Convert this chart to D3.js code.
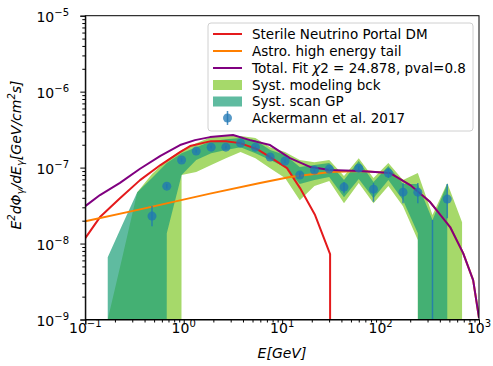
<!DOCTYPE html>
<html>
<head>
<meta charset="utf-8">
<script src="https://cdn.jsdelivr.net/npm/d3@7"></script>
<style>
  body { margin: 0; background: #fff; }
  svg text { font-family: "DejaVu Sans", sans-serif; fill: #000; }
</style>
</head>
<body>
<div id="chart"></div>
<script>
// Ackermann et al. 2017 points (GeV, GeV/cm2/s)
const dataE  = [0.476, 0.673, 0.951, 1.34, 1.90, 2.68, 3.78, 5.35, 7.55, 10.7, 15.1, 21.3, 30.1, 42.5, 60.0, 84.7, 120, 169, 239, 337, 476];
const dataF  = [2.30e-8, 5.7e-8, 1.26e-7, 1.65e-7, 1.86e-7, 1.86e-7, 2.10e-7, 1.86e-7, 1.38e-7, 1.22e-7, 7.97e-8, 9.27e-8, 9.55e-8, 5.54e-8, 9.84e-8, 5.2e-8, 8.47e-8, 4.75e-8, 4.75e-8, 5e-10, 3.85e-8];
const dataLo = [1.69e-8, 5.3e-8, 1.19e-7, 1.57e-7, 1.78e-7, 1.78e-7, 2.01e-7, 1.78e-7, 1.31e-7, 1.15e-7, 7.4e-8, 8.6e-8, 8.9e-8, 4.6e-8, 9.2e-8, 3.55e-8, 7.3e-8, 3.40e-8, 3.40e-8, 0, 2.16e-8];
const dataHi = [3.11e-8, 6.1e-8, 1.33e-7, 1.73e-7, 1.94e-7, 1.94e-7, 2.19e-7, 1.94e-7, 1.45e-7, 1.29e-7, 8.6e-8, 9.9e-8, 1.02e-7, 6.44e-8, 1.05e-7, 6.25e-8, 9.8e-8, 6.25e-8, 6.25e-8, 2.04e-8, 6.07e-8];

// systematic bands, on the same energy grid (3 bins below, 1 above)
const bandE  = [0.169, 0.239, 0.337, 0.476, 0.673, 0.951, 1.34, 1.90, 2.68, 3.78, 5.35, 7.55, 10.7, 15.1, 21.3, 30.1, 42.5, 60.0, 84.7, 120, 169, 239, 337, 476, 673];
const bckUp  = [1.0e-9, 6.82e-9, 4.75e-8, 8.21e-8, 1.26e-7, 1.70e-7, 2.10e-7, 2.52e-7, 2.60e-7, 2.60e-7, 2.45e-7, 1.86e-7, 1.60e-7, 1.26e-7, 1.18e-7, 1.26e-7, 7.73e-8, 1.33e-7, 7.27e-8, 1.15e-7, 6.86e-8, 8.47e-8, 2.37e-8, 6.25e-8, 1.91e-8];
const bckLo  = [0, 0, 0, 0, 0, 7.97e-8, 8.73e-8, 1.08e-7, 1.33e-7, 1.60e-7, 1.33e-7, 9.84e-8, 7.27e-8, 3.73e-8, 5.71e-8, 6.64e-8, 3.40e-8, 6.25e-8, 3.40e-8, 5.71e-8, 3.11e-8, 1.11e-8, 0, 0, 0];
const scanUp = [6.62e-9, 1.80e-8, 4.75e-8, 7.27e-8, 1.15e-7, 1.55e-7, 1.86e-7, 2.23e-7, 2.37e-7, 2.45e-7, 2.30e-7, 1.70e-7, 1.46e-7, 1.02e-7, 1.08e-7, 1.15e-7, 6.86e-8, 1.22e-7, 6.44e-8, 1.05e-7, 6.07e-8, 6.07e-8, 2.04e-8, 6.07e-8];
const scanLo = [0, 0, 0, 0, 1.37e-8, 7.97e-8, 1.26e-7, 1.55e-7, 1.70e-7, 1.86e-7, 1.55e-7, 1.26e-7, 1.02e-7, 6.07e-8, 6.86e-8, 7.50e-8, 4.08e-8, 7.06e-8, 3.96e-8, 6.86e-8, 3.73e-8, 1.37e-8, 0, 0];

// model curves
const dmE    = [0.1, 0.141, 0.225, 0.360, 0.58, 0.917, 1.16, 1.89, 2.69, 3.73, 5.56, 7.54, 11.2, 15.2, 21.6, 30.7, 30.7];
const dmF    = [1.18e-8, 2.23e-8, 3.94e-8, 6.84e-8, 1.08e-7, 1.60e-7, 1.92e-7, 2.23e-7, 2.23e-7, 2.10e-7, 1.75e-7, 1.37e-7, 9.84e-8, 5.37e-8, 2.37e-8, 7.24e-9, 0];
const astroE = [0.1, 0.360, 1.85, 5.96, 12.0, 30.7, 61.9, 125, 200, 319, 509, 690, 872, 1000];
const astroF = [1.97e-8, 2.82e-8, 4.54e-8, 6.25e-8, 7.5e-8, 8.73e-8, 9.0e-8, 8.47e-8, 5.89e-8, 3.52e-8, 1.65e-8, 7.49e-9, 3.30e-9, 1.05e-9];
const totalE = [0.1, 0.141, 0.225, 0.360, 0.58, 0.917, 1.30, 1.85, 3.17, 4.72, 7.54, 12.0, 19.2, 30.7, 61.9, 125, 200, 319, 509, 690, 872, 1000];
const totalF = [3.11e-8, 4.35e-8, 6.3e-8, 9.66e-8, 1.43e-7, 1.98e-7, 2.30e-7, 2.52e-7, 2.68e-7, 2.30e-7, 1.98e-7, 1.33e-7, 1.02e-7, 9.27e-8, 9.0e-8, 8.47e-8, 5.89e-8, 3.52e-8, 1.65e-8, 7.49e-9, 3.30e-9, 1.05e-9];

const xTicks = [0.1, 1, 10, 100, 1000];
const xTickExp = ["\u22121", "0", "1", "2", "3"];
const yTicks = [1e-9, 1e-8, 1e-7, 1e-6, 1e-5];
const yTickExp = ["\u22129", "\u22128", "\u22127", "\u22126", "\u22125"];

const W = 493, H = 366;
const margin = { top: 15.7, right: 14, bottom: 46.5, left: 85.3 };

const svg = d3.select("#chart").append("svg").attr("width", W).attr("height", H);

const x = d3.scaleLog().domain([0.1, 1000]).range([margin.left, W - margin.right]);
const y = d3.scaleLog().domain([1e-9, 1e-5]).range([H - margin.bottom, margin.top]);
// zero -> far below the axis, like matplotlib's clipping of non-positive values
const yv = v => y(Math.max(v, 1e-300));

svg.append("clipPath").attr("id", "plot-clip")
    .append("rect")
    .attr("x", margin.left).attr("y", margin.top)
    .attr("width", x.range()[1] - margin.left).attr("height", y.range()[0] - margin.top);

const plot = svg.append("g").attr("clip-path", "url(#plot-clip)");

// bands
const band = d3.area().x(d => x(d.e)).y0(d => yv(d.lo)).y1(d => yv(d.hi));
const bck = bandE.map((e, i) => ({ e: e, lo: bckLo[i], hi: bckUp[i] }));
const scan = scanUp.map((v, i) => ({ e: bandE[i], lo: scanLo[i], hi: v }));
plot.append("path").datum(bck).attr("d", band).attr("fill", "#a6d96a");
plot.append("path").datum(scan).attr("d", band).attr("fill", "#1b9e77").attr("fill-opacity", 0.7);

// curves
const line = d3.line().x(d => x(d[0])).y(d => yv(d[1]));
function curve(es, fs, color) {
    plot.append("path").datum(es.map((e, i) => [e, fs[i]]))
        .attr("d", line).attr("fill", "none")
        .attr("stroke", color).attr("stroke-width", 2).attr("stroke-linejoin", "round");
}
curve(dmE, dmF, "#e41a1c");
curve(astroE, astroF, "#ff7f00");
curve(totalE, totalF, "#800080");

// data points
const pts = plot.append("g");
pts.selectAll("line").data(dataE).enter().append("line")
    .attr("x1", d => x(d)).attr("x2", d => x(d))
    .attr("y1", (d, i) => yv(dataLo[i])).attr("y2", (d, i) => yv(dataHi[i]))
    .attr("stroke", "#1f77b4").attr("stroke-opacity", 0.8).attr("stroke-width", 1.5);
pts.selectAll("circle").data(dataE).enter().append("circle")
    .attr("cx", d => x(d)).attr("cy", (d, i) => yv(dataF[i]))
    .attr("r", 4.5).attr("fill", "#1f77b4").attr("fill-opacity", 0.75);

// axes
const minorX = [], minorY = [];
[0.1, 1, 10, 100].forEach(d => { for (let m = 2; m < 10; m++) minorX.push(d * m); });
[1e-9, 1e-8, 1e-7, 1e-6].forEach(d => { for (let m = 2; m < 10; m++) minorY.push(d * m); });

const gx = svg.append("g").attr("transform", "translate(0," + y.range()[0] + ")");
gx.call(d3.axisBottom(x).tickValues(xTicks).tickSize(5).tickFormat(""));
gx.append("g").call(d3.axisBottom(x).tickValues(minorX).tickSize(3).tickFormat("")).select(".domain").remove();

const gy = svg.append("g").attr("transform", "translate(" + margin.left + ",0)");
gy.call(d3.axisLeft(y).tickValues(yTicks).tickSize(5).tickFormat(""));
gy.append("g").call(d3.axisLeft(y).tickValues(minorY).tickSize(3).tickFormat("")).select(".domain").remove();

svg.selectAll(".tick line").attr("stroke-width", 1);

// frame
svg.append("rect")
    .attr("x", margin.left).attr("y", margin.top)
    .attr("width", x.range()[1] - margin.left).attr("height", y.range()[0] - margin.top)
    .attr("fill", "none").attr("stroke", "#000").attr("stroke-width", 1);

// tick labels with superscripts
xTicks.forEach((v, i) => {
    const t = svg.append("text").attr("x", x(v)).attr("y", 333).attr("text-anchor", "middle").style("font-size", "14px");
    t.append("tspan").text("10");
    t.append("tspan").attr("dy", -6).style("font-size", "10px").text(xTickExp[i]);
});
yTicks.forEach((v, i) => {
    const t = svg.append("text").attr("x", 69).attr("y", y(v) + 6).attr("text-anchor", "end").style("font-size", "14px");
    t.append("tspan").text("10");
    t.append("tspan").attr("dy", -6).style("font-size", "10px").text(yTickExp[i]);
});

// axis titles
svg.append("text").attr("x", 282).attr("y", 358).attr("text-anchor", "middle")
    .style("font-size", "14px").style("font-style", "italic").text("E[GeV]");

const yl = svg.append("text").attr("transform", "translate(21,155) rotate(-90)")
    .attr("text-anchor", "middle").style("font-size", "14px").style("font-style", "italic");
yl.append("tspan").text("E");
yl.append("tspan").attr("dy", -6).style("font-size", "10px").text("2");
yl.append("tspan").attr("dy", 6).text("d\u03a6");
yl.append("tspan").attr("dy", 3).style("font-size", "10px").text("\u03b3");
yl.append("tspan").attr("dy", -3).text("/dE");
yl.append("tspan").attr("dy", 3).style("font-size", "10px").text("\u03b3");
yl.append("tspan").attr("dy", -3).text("[GeV/cm");
yl.append("tspan").attr("dy", -6).style("font-size", "10px").text("2");
yl.append("tspan").attr("dy", 6).text("s]");

// legend
const lg = svg.append("g");
lg.append("rect").attr("x", 208).attr("y", 23).attr("width", 265).attr("height", 108).attr("rx", 3)
    .attr("fill", "#fff").attr("fill-opacity", 0.8).attr("stroke", "#d0d0d0");
const rows = [34, 51, 68, 85, 101.5, 118];
[["#e41a1c", 0], ["#ff7f00", 1], ["#800080", 2]].forEach(([c, i]) => {
    lg.append("line").attr("x1", 213).attr("x2", 242).attr("y1", rows[i]).attr("y2", rows[i])
        .attr("stroke", c).attr("stroke-width", 2);
});
lg.append("rect").attr("x", 213).attr("y", rows[3] - 5).attr("width", 29).attr("height", 10).attr("fill", "#a6d96a");
lg.append("rect").attr("x", 213).attr("y", rows[4] - 5).attr("width", 29).attr("height", 10)
    .attr("fill", "#1b9e77").attr("fill-opacity", 0.7);
lg.append("line").attr("x1", 227.5).attr("x2", 227.5).attr("y1", rows[5] - 7).attr("y2", rows[5] + 7)
    .attr("stroke", "#1f77b4").attr("stroke-opacity", 0.8).attr("stroke-width", 1.5);
lg.append("circle").attr("cx", 227.5).attr("cy", rows[5]).attr("r", 4.5).attr("fill", "#1f77b4").attr("fill-opacity", 0.75);

const labels = ["Sterile Neutrino Portal DM", "Astro. high energy tail", null, "Syst. modeling bck", "Syst. scan GP", "Ackermann et al. 2017"];
labels.forEach((s, i) => {
    if (!s) return;
    lg.append("text").attr("x", 252).attr("y", rows[i]).attr("dy", "0.35em").style("font-size", "13.5px").text(s);
});
const tl = lg.append("text").attr("x", 252).attr("y", rows[2]).attr("dy", "0.35em").style("font-size", "13.5px");
tl.append("tspan").text("Total. Fit ");
tl.append("tspan").style("font-style", "italic").text("\u03c7");
tl.append("tspan").text("2 = 24.878, pval=0.8");
</script>
